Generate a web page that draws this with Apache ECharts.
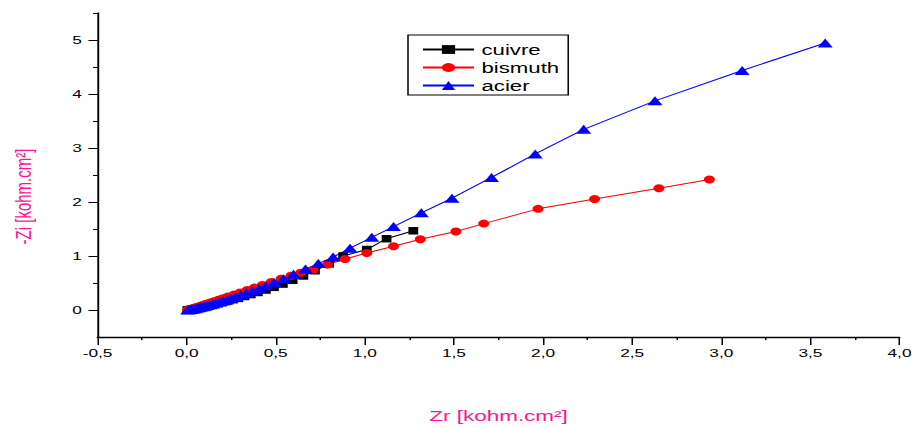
<!DOCTYPE html>
<html><head><meta charset="utf-8">
<script src="https://cdn.jsdelivr.net/npm/echarts@6/dist/echarts.min.js"></script>
<style>
html,body{margin:0;padding:0;background:#fff;overflow:hidden;}
#wrap{width:916px;height:428px;overflow:hidden;background:#fff;}
#chart{width:610.6667px;height:428px;transform:scaleX(1.5);transform-origin:0 0;}
</style></head><body><div id="wrap"><div id="chart"></div></div>
<script>
const seriesNames = ['cuivre', 'bismuth', 'acier'];

const cuivreX = [1.272,1.122,1.011,0.878,0.80,0.72,0.655,0.595,0.54,0.49,0.445,0.40,0.36,0.325,0.29,0.26,0.23,0.20,0.175,0.15,0.128,0.108,0.09,0.074,0.06,0.047,0.036,0.026,0.017,0.01,0.004];
const cuivreY = [1.467,1.32,1.12,1.0,0.855,0.727,0.63,0.55,0.48,0.42,0.37,0.325,0.285,0.25,0.215,0.19,0.165,0.14,0.12,0.10,0.083,0.068,0.055,0.044,0.034,0.026,0.019,0.013,0.008,0.004,0.001];

const bismuthX = [2.933,2.650,2.289,1.972,1.667,1.511,1.311,1.161,1.011,0.889,0.79,0.71,0.64,0.585,0.53,0.475,0.425,0.38,0.34,0.30,0.265,0.232,0.203,0.176,0.152,0.13,0.11,0.092,0.075,0.06,0.046,0.034,0.023,0.014,0.006];
const bismuthY = [2.418,2.255,2.055,1.873,1.60,1.455,1.309,1.182,1.055,0.945,0.84,0.745,0.69,0.635,0.58,0.52,0.465,0.415,0.37,0.325,0.285,0.25,0.218,0.188,0.16,0.137,0.115,0.095,0.077,0.06,0.045,0.032,0.02,0.011,0.004];

const acierX = [3.583,3.117,2.628,2.228,1.956,1.711,1.489,1.317,1.161,1.039,0.917,0.822,0.739,0.667,0.60,0.544,0.49,0.445,0.405,0.368,0.334,0.303,0.275,0.249,0.225,0.203,0.183,0.164,0.147,0.131,0.116,0.102,0.089,0.077,0.066,0.055,0.045,0.036,0.027,0.019,0.012,0.006];
const acierY = [4.945,4.436,3.873,3.345,2.89,2.455,2.07,1.80,1.545,1.345,1.145,0.98,0.86,0.76,0.66,0.58,0.51,0.45,0.40,0.355,0.315,0.28,0.248,0.218,0.192,0.168,0.147,0.128,0.111,0.096,0.082,0.07,0.059,0.049,0.04,0.032,0.025,0.018,0.012,0.008,0.004,0.001];

const xMin = -0.5, xMax = 4.0, xStep = 0.5;
const yMin = -0.5, yMax = 5.5;
const yMajorValues = [0, 1, 2, 3, 4, 5];
const yMinorValues = [0.5, 1.5, 2.5, 3.5, 4.5, 5.5];
const xTitle = 'Zr [kohm.cm²]';
const yTitle = '-Zi [kohm.cm²]';

function zip(a, b) { return a.map((v, i) => [v, b[i]]); }

const FONT = 'Liberation Sans, Arial, sans-serif';
const PINK = '#ff1493';

const chart = echarts.init(document.getElementById('chart'), null, {renderer: 'svg', width: 610.6667, height: 428});

const baseSeries = (name, xs, ys, color, symbol, size) => ({
  name: name, type: 'line', data: zip(xs, ys), yAxisIndex: 0,
  symbol: symbol, symbolSize: size, showSymbol: true, showAllSymbol: true,
  itemStyle: {color: color}, lineStyle: {color: color, width: 1},
  emphasis: {disabled: true}, animation: false
});

chart.setOption({
  animation: false,
  backgroundColor: '#fff',
  grid: {left: 63.5, right: 7.33, top: 13, bottom: 86, containLabel: false},
  legend: {
    orient: 'vertical', left: 272, top: 35,
    padding: [7, 6, 2, 9], itemGap: 3, itemWidth: 34, itemHeight: 11,
    borderColor: '#000', borderWidth: 1, borderRadius: 0,
    textStyle: {fontSize: 14.8, fontFamily: FONT, color: '#000'},
    data: seriesNames
  },
  xAxis: {
    type: 'value', min: xMin, max: xMax, interval: xStep,
    name: xTitle, nameLocation: 'middle', nameGap: 71,
    nameTextStyle: {color: PINK, fontSize: 15, fontFamily: FONT},
    axisLine: {onZero: false, lineStyle: {color: '#000', width: 1.3}},
    axisTick: {show: true, length: 8, lineStyle: {color: '#000', width: 1}},
    minorTick: {show: true, splitNumber: 2, length: 3, lineStyle: {color: '#000', width: 1}},
    splitLine: {show: false}, minorSplitLine: {show: false},
    axisLabel: {margin: 10.5, fontSize: 11.5, fontFamily: FONT, color: '#000',
      formatter: v => v.toFixed(1).replace('.', ',')}
  },
  yAxis: [{
    type: 'value', min: yMin, max: yMax, position: 'left',
    name: yTitle, nameLocation: 'middle', nameGap: 42,
    nameTextStyle: {color: PINK, fontSize: 15, fontFamily: FONT, padding: [0, 43, 0, 0]},
    axisLine: {onZero: false, lineStyle: {color: '#000', width: 1.3}},
    axisTick: {show: true, length: 6, customValues: yMajorValues, lineStyle: {color: '#000', width: 1}},
    splitLine: {show: false},
    axisLabel: {margin: 10.5, fontSize: 11.5, fontFamily: FONT, color: '#000', customValues: yMajorValues,
      formatter: v => String(v)}
  }, {
    type: 'value', min: yMin, max: yMax, position: 'left', offset: 0,
    axisLine: {show: false, onZero: false},
    axisTick: {show: true, length: 3, customValues: yMinorValues, lineStyle: {color: '#000', width: 1}},
    splitLine: {show: false},
    axisLabel: {show: false}
  }],
  series: [
    baseSeries('cuivre', cuivreX, cuivreY, '#000000', 'rect', [6.5, 7.5]),
    baseSeries('bismuth', bismuthX, bismuthY, '#ff0000', 'circle', [7.3, 8]),
    baseSeries('acier', acierX, acierY, '#0000ff', 'triangle', [10, 9])
  ]
});
</script>
</body></html>
